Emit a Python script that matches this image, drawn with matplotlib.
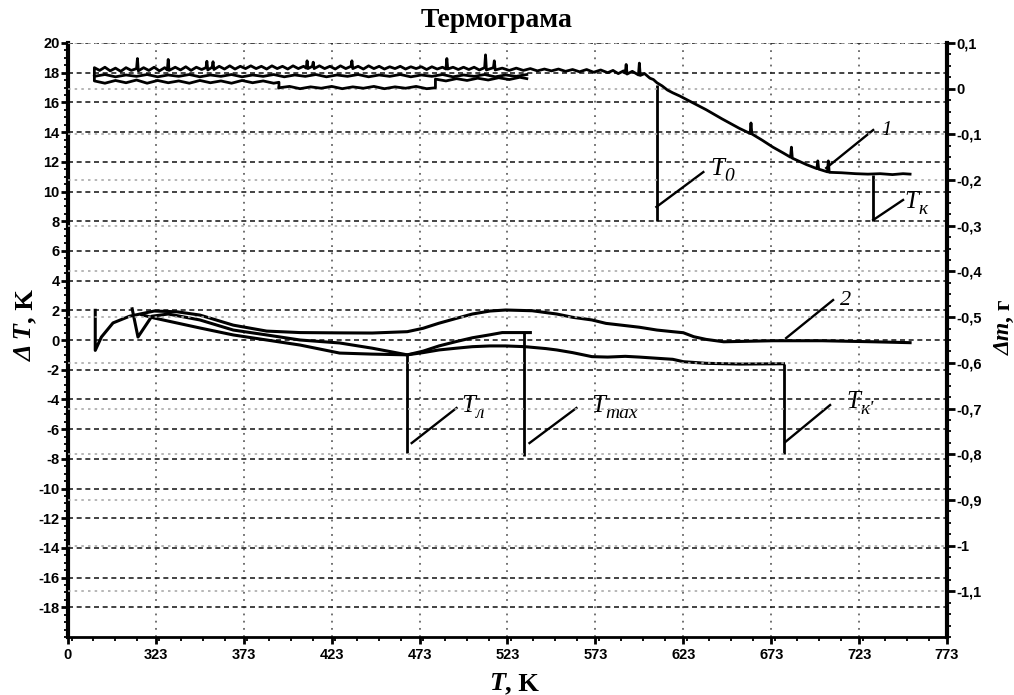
import matplotlib
matplotlib.use("Agg")
import matplotlib.pyplot as plt
from matplotlib import font_manager
from matplotlib.font_manager import FontProperties
from matplotlib.ticker import MultipleLocator

plt.rcParams['axes.unicode_minus'] = False

# ---------------- data ----------------
x_ticks = [273, 323, 373, 423, 473, 523, 573, 623, 673, 723, 773]
x_tick_labels = ['0', '323', '373', '423', '473', '523', '573', '623', '673', '723', '773']
dT_ticks = [20, 18, 16, 14, 12, 10, 8, 6, 4, 2, 0, -2, -4, -6, -8, -10, -12, -14, -16, -18]
dT_tick_labels = ['20', '18', '16', '14', '12', '10', '8', '6', '4', '2', '0', '-2', '-4', '-6',
                  '-8', '-10', '-12', '-14', '-16', '-18']
m_ticks = [0.1, 0.0, -0.1, -0.2, -0.3, -0.4, -0.5, -0.6, -0.7, -0.8, -0.9, -1.0, -1.1]
m_tick_labels = ['0,1', '0', '-0,1', '-0,2', '-0,3', '-0,4', '-0,5', '-0,6', '-0,7', '-0,8',
                 '-0,9', '-1', '-1,1']

# curve 1 (TG, mass change, right axis) - main trace
tg_T = [288, 288, 291, 294, 297, 300, 303, 306, 309, 312, 312.5, 313, 316, 319, 322, 325, 328,
        329.5, 330, 330.5, 334, 337, 340, 343, 346, 349, 351.5, 352, 352.5, 355, 355.5, 356,
        359, 362, 365, 368, 371, 374, 377, 380, 383, 386, 389, 392, 395, 398, 401, 404, 407,
        408.5, 409, 409.5, 412, 412.5, 413, 416, 419, 422, 425, 428, 431, 434, 434.5, 435, 438,
        441, 444, 447, 450, 453, 456, 459, 462, 465, 468, 471, 474, 477, 480, 483, 486, 488,
        488.5, 489, 492, 495, 498, 501, 504, 507, 510, 510.5, 511, 515, 515.5, 516, 520, 524,
        528, 532, 536, 540, 544, 548, 552, 556, 560, 564, 568, 572, 576, 580, 583, 586, 589,
        590, 590.5, 591, 594, 597.5, 598, 598.5, 601, 604, 606, 608, 611, 614, 617, 621, 628,
        636, 645, 655, 661, 661.5, 662, 668, 674, 680, 684, 684.5, 685, 693, 699, 699.5, 700,
        704, 705, 705.5, 706, 713, 721, 728, 735, 742, 748, 752]
tg_m = [0.030, 0.046, 0.040, 0.047, 0.039, 0.045, 0.038, 0.046, 0.040, 0.044, 0.066, 0.039,
        0.046, 0.040, 0.047, 0.039, 0.046, 0.041, 0.064, 0.040, 0.047, 0.041, 0.048, 0.040,
        0.047, 0.042, 0.046, 0.060, 0.041, 0.047, 0.059, 0.042, 0.049, 0.043, 0.050, 0.043,
        0.049, 0.044, 0.050, 0.044, 0.049, 0.043, 0.050, 0.044, 0.049, 0.043, 0.050, 0.044,
        0.049, 0.045, 0.061, 0.044, 0.049, 0.058, 0.044, 0.050, 0.044, 0.049, 0.043, 0.050,
        0.044, 0.049, 0.061, 0.044, 0.049, 0.043, 0.050, 0.044, 0.049, 0.043, 0.048, 0.044,
        0.049, 0.043, 0.048, 0.044, 0.048, 0.042, 0.048, 0.043, 0.047, 0.043, 0.066, 0.043,
        0.047, 0.042, 0.047, 0.042, 0.047, 0.041, 0.046, 0.074, 0.041, 0.046, 0.061, 0.041,
        0.045, 0.040, 0.045, 0.040, 0.044, 0.039, 0.043, 0.039, 0.043, 0.038, 0.042, 0.037,
        0.042, 0.036, 0.041, 0.035, 0.040, 0.033, 0.039, 0.034, 0.053, 0.032, 0.038, 0.030,
        0.056, 0.029, 0.033, 0.023, 0.020, 0.013, 0.006, -0.003, -0.009, -0.016, -0.030,
        -0.046, -0.066, -0.087, -0.098, -0.075, -0.099, -0.113, -0.128, -0.141, -0.150, -0.128,
        -0.152, -0.166, -0.175, -0.158, -0.176, -0.181, -0.182, -0.158, -0.183, -0.184, -0.186,
        -0.187, -0.186, -0.188, -0.186, -0.187]
# curve 1 - overlapping return traces in the initial region
tg_ret_T = [534, 528, 522, 516, 510, 504, 498, 492, 486, 480, 474, 468, 462, 456, 450, 444,
            438, 432, 426, 420, 414, 408, 402, 396, 390, 384, 378, 372, 366, 360, 354, 348,
            342, 336, 330, 324, 318, 312, 306, 300, 294, 288]
tg_ret_m = [0.031, 0.027, 0.030, 0.026, 0.031, 0.027,
            0.030, 0.026, 0.031, 0.027, 0.030, 0.026,
            0.031, 0.027, 0.030, 0.026, 0.031, 0.027,
            0.030, 0.026, 0.031, 0.027, 0.030, 0.026,
            0.031, 0.027, 0.030, 0.026, 0.031, 0.027,
            0.030, 0.026, 0.031, 0.027, 0.030, 0.026,
            0.031, 0.027, 0.030, 0.026, 0.031, 0.027]
tg_low_T = [288, 288, 294, 300, 306, 312, 318, 324, 330, 336, 342, 348, 354, 360, 366, 372,
            378, 384, 390, 393, 393]
tg_low_m = [0.027, 0.017, 0.012, 0.018, 0.013, 0.019, 0.012, 0.018, 0.013, 0.017, 0.012,
            0.018, 0.013, 0.017, 0.012, 0.018, 0.013, 0.017, 0.012, 0.014, 0.002]
tg_box_T = [393, 399, 405, 411, 417, 423, 429, 435, 441, 447, 453, 459, 465, 471, 477, 482,
            482, 488, 494, 500, 506, 512, 518, 524, 530, 534]
tg_box_m = [0.002, 0.005, 0.000, 0.004, 0.001, 0.005, 0.000, 0.004, 0.001, 0.005, 0.000,
            0.004, 0.001, 0.005, 0.000, 0.002, 0.021, 0.017, 0.022, 0.018, 0.023, 0.019,
            0.024, 0.020, 0.025, 0.022]

# curve 2 (DTA, left axis)
dta2_T = [288.5, 288.5, 292, 298.6, 308, 322, 335, 348, 367, 386, 405, 427.5, 446, 466, 475,
          484, 494, 503, 513, 522, 537, 551, 560, 571, 579, 598, 608, 617, 623, 629, 636, 646,
          674, 702, 731, 752]
dta2_dT = [2.0, -0.7, 0.2, 1.15, 1.6, 1.95, 1.9, 1.68, 1.0, 0.6, 0.5, 0.48, 0.47, 0.56, 0.79,
           1.13, 1.46, 1.75, 1.95, 2.02, 1.97, 1.75, 1.53, 1.35, 1.12, 0.86, 0.67, 0.56, 0.49,
           0.22, 0.04, -0.12, -0.05, -0.05, -0.12, -0.18]
dtaB_T = [309.5, 312.8, 320.7, 330, 348, 367, 386, 405, 427.5, 446, 466, 475, 484, 494, 503,
          513, 520, 536]
dtaB_dT = [2.1, 0.2, 1.6, 1.75, 1.35, 0.67, 0.34, 0.0, -0.2, -0.55, -1.0, -0.75, -0.4, -0.1,
           0.15, 0.35, 0.5, 0.5]
dtaC_T = [315, 322, 348, 367, 386, 405, 427.5, 446, 466, 475, 484, 494, 503, 513, 522, 533,
          545, 551, 560, 571, 580, 590, 598, 608, 617, 623, 636, 655, 680]
dtaC_dT = [1.7, 1.48, 0.81, 0.34, 0.0, -0.34, -0.88, -0.95, -1.0, -0.85, -0.67, -0.55, -0.45,
           -0.4, -0.4, -0.45, -0.58, -0.67, -0.85, -1.12, -1.15, -1.1, -1.15, -1.23, -1.3,
           -1.46, -1.57, -1.62, -1.6]

# characteristic temperatures (vertical markers, left-axis units)
marker_T = [608, 731, 466, 532.5, 680]
marker_top = [17.2, 11.1, -1.0, 0.5, -1.6]
marker_bottom = [8.0, 8.0, -7.6, -7.8, -7.7]


# ---------------- fonts ----------------
def pick(fams):
    for f in fams:
        try:
            font_manager.findfont(FontProperties(family=f), fallback_to_default=False)
            return f
        except Exception:
            pass
    return 'DejaVu Sans'


TICKFONT = pick(['Liberation Sans Narrow', 'DejaVu Sans Condensed', 'Liberation Sans'])
SERIF = pick(['Liberation Serif', 'DejaVu Serif'])

# ---------------- figure ----------------
W, H = 1014, 695
fig = plt.figure(figsize=(W / 100, H / 100), dpi=100)
ax = fig.add_axes([68 / W, 1 - 637 / H, (947 - 68) / W, (637 - 43) / H])
ax.set_xlim(273, 773)
ax.set_ylim(-20, 20)
ax2 = ax.twinx()
ax2.set_ylim(-1.2, 0.1)

# grids
ax.set_axisbelow(True)
ax.yaxis.grid(True, which='major', ls=(0, (3, 2.2)), color='#222222', lw=1.2)
ax.xaxis.grid(True, which='major', ls=(0, (1, 3)), color='#666666', lw=1.3)
ax2.yaxis.grid(True, which='major', ls=(0, (1.5, 2.5)), color='#aaaaaa', lw=1.2)

# ticks
tk = dict(fontweight='bold', fontfamily=TICKFONT, fontsize=10.5)
ax.set_xticks(x_ticks, x_tick_labels, **tk)
ax.set_yticks(dT_ticks, dT_tick_labels, **tk)
ax2.set_yticks(m_ticks, m_tick_labels, **tk)
ax.xaxis.set_minor_locator(MultipleLocator(12.5))
ax.yaxis.set_minor_locator(MultipleLocator(0.5))
ax2.yaxis.set_minor_locator(MultipleLocator(0.025))
ax.tick_params(axis='x', which='major', direction='out', length=5, width=2, pad=3)
ax.tick_params(axis='x', which='minor', direction='out', length=3, width=1.3)
ax.tick_params(axis='y', which='major', direction='out', length=5, width=2, pad=1)
ax.tick_params(axis='y', which='minor', direction='out', length=3, width=1.3)
ax2.tick_params(axis='y', which='major', direction='out', length=6, width=2, pad=1)
ax2.tick_params(axis='y', which='minor', direction='out', length=3, width=1.3)

for s in ['top', 'right']:
    ax.spines[s].set_visible(False)
ax.spines['left'].set_linewidth(3)
ax.spines['bottom'].set_linewidth(2)
for s in ['top', 'left', 'bottom']:
    ax2.spines[s].set_visible(False)
ax2.spines['right'].set_linewidth(3)

# curves
for xs, ys in [(tg_T, tg_m), (tg_ret_T, tg_ret_m), (tg_low_T, tg_low_m), (tg_box_T, tg_box_m)]:
    ax2.plot(xs, ys, color='black', lw=2.0, solid_joinstyle='round')
ax.plot(dta2_T, dta2_dT, color='black', lw=2.2)
ax.plot(dtaB_T, dtaB_dT, color='black', lw=2.2)
ax.plot(dtaC_T, dtaC_dT, color='black', lw=2.2)
ax.vlines(marker_T, marker_bottom, marker_top, color='black', lw=2)

# leader lines and labels
leaders = [((607.7, 8.96), (634.4, 11.31)), ((731, 8.08), (748, 9.43)),
           ((704.3, 11.58), (731, 14.14)), ((681.5, 0.13), (708.2, 2.69)),
           ((468.5, -6.94), (494, -4.58)), ((535.5, -6.94), (562.2, -4.58)),
           ((681, -6.87), (706.5, -4.38))]
for (x0, y0), (x1, y1) in leaders:
    ax.plot([x0, x1], [y0, y1], color='black', lw=1.7)


def tlabel(x, y, main, sub=None, size=18, subsize=14, dx=10, dy=-4):
    ax.text(x, y, main, fontsize=size, style='italic', family=SERIF, ha='left', va='baseline')
    if sub:
        ax.annotate(sub, xy=(x, y), xytext=(dx, dy), textcoords='offset points',
                    fontsize=subsize, style='italic', family=SERIF, ha='left', va='baseline')


tlabel(638.3, 11.11, 'T', '0')
tlabel(749, 8.89, 'T', 'к')
tlabel(735.5, 13.8, '1', size=15)
tlabel(712, 2.36, '2', size=16)
tlabel(497, -4.85, 'T', 'л')
tlabel(570.7, -4.85, 'T', 'max')
tlabel(715.6, -4.58, 'T', "к'")

# titles / axis labels
fig.text(0.490, 0.970, 'Термограма', ha='center', va='center', fontsize=20,
         fontweight='bold', family=SERIF)
fig.text(505 / W, 1 - 690 / H, 'T', ha='right', va='baseline', fontsize=19,
         fontweight='bold', style='italic', family=SERIF)
fig.text(505 / W, 1 - 690 / H, ', K', ha='left', va='baseline', fontsize=19,
         fontweight='bold', family=SERIF)
fig.text(32 / W, 1 - 323 / H, 'Δ T', ha='right', va='baseline', rotation=90,
         rotation_mode='anchor', fontsize=19, fontweight='bold', style='italic', family=SERIF)
fig.text(32 / W, 1 - 323 / H, ', K', ha='left', va='baseline', rotation=90,
         rotation_mode='anchor', fontsize=19, fontweight='bold', family=SERIF)
fig.text(1010 / W, 1 - 322 / H, 'Δm', ha='right', va='baseline', rotation=90,
         rotation_mode='anchor', fontsize=17, fontweight='bold', style='italic', family=SERIF)
fig.text(1010 / W, 1 - 322 / H, ', г', ha='left', va='baseline', rotation=90,
         rotation_mode='anchor', fontsize=17, fontweight='bold', family=SERIF)

fig.savefig('out.png', dpi=100)
